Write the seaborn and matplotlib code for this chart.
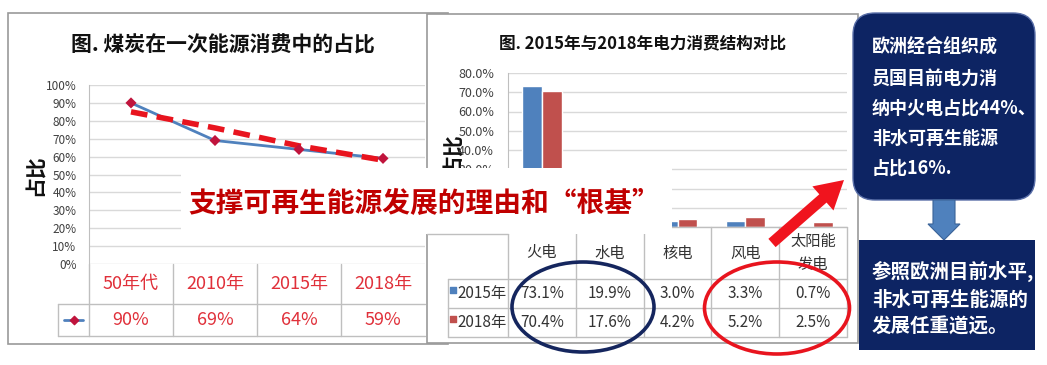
import numpy as np
import pandas as pd
import seaborn as sns
from matplotlib import pyplot as plt
from matplotlib.patches import Ellipse, FancyArrow, FancyBboxPatch, Rectangle

# left chart: coal share of primary energy
coal_periods = ["50年代", "2010年", "2015年", "2018年"]
coal_share = [90, 69, 64, 59]
coal_trend = [85, 76, 66, 58]  # dashed trend

# right chart: power consumption structure
power_types = ["火电", "水电", "核电", "风电", "太阳能\n发电"]
years = ["2015年", "2018年"]
share_2015 = [73.1, 19.9, 3.0, 3.3, 0.7]
share_2018 = [70.4, 17.6, 4.2, 5.2, 2.5]

W, H = 1047, 365
BLUE, RED = "#4F81BD", "#C0504D"
NAVY = "#0D2463"
GRID = "#D9D9D9"
LINE = "#BFBFBF"

sns.set_style("white")
plt.rcParams["font.family"] = ["Noto Sans CJK SC", "DejaVu Sans"]


def box(x0, y0, x1, y1):
    return [x0 / W, 1 - y1 / H, (x1 - x0) / W, (y1 - y0) / H]


def canvas(z):
    ax = fig.add_axes([0, 0, 1, 1])
    ax.set_xlim(0, W)
    ax.set_ylim(H, 0)
    ax.axis("off")
    ax.set_zorder(z)
    return ax


fig = plt.figure(figsize=(W / 100, H / 100), dpi=100, facecolor="white")

# ---- left panel ----
c0 = canvas(0)
c0.add_patch(Rectangle((8, 13), 440, 331, fc="white", ec="#9A9A9A", lw=1.2))
c0.text(223, 45, "图. 煤炭在一次能源消费中的占比", fontsize=15, fontweight="bold",
        ha="center", va="center", color="#111111")
c0.text(35, 175, "占比", fontsize=15, fontweight="bold", rotation=90,
        ha="center", va="center", color="#111111")

ax1 = fig.add_axes(box(89, 85, 425, 264))
ax1.set_zorder(1)
ax1.patch.set_alpha(0)
xpos = np.arange(len(coal_periods))
sns.lineplot(x=xpos, y=coal_share, color=BLUE, lw=2, ax=ax1)
sns.lineplot(x=xpos, y=coal_trend, color="#E8141E", lw=4,
             linestyle=(0, (3, 1.7)), ax=ax1)
sns.scatterplot(x=xpos, y=coal_share, marker="D", s=32, color="#C0143C",
                edgecolor="none", ax=ax1, zorder=5)
ax1.set_xlim(-0.5, 3.5)
ax1.set_ylim(0, 100)
ax1.set_yticks(range(0, 101, 10))
ax1.set_yticklabels([f"{v}%" for v in range(0, 101, 10)], fontsize=8.5, color="#404040")
ax1.set_xticks([])
ax1.tick_params(axis="y", length=0, pad=9)
ax1.yaxis.grid(True, color=GRID, lw=1)
for s in ["top", "right", "bottom"]:
    ax1.spines[s].set_visible(False)
ax1.spines["left"].set_color(LINE)

# left data table
t1 = fig.add_axes(box(89, 264, 425, 336))
t1.set_zorder(1)
t1.axis("off")
t1.set_xlim(-0.5, 3.5)
t1.set_ylim(336, 264)
leg1 = -0.5 - 31 / 84
for b in np.arange(-0.5, 3.0, 1.0):
    t1.plot([b, b], [264, 336], color=LINE, lw=1, clip_on=False)
t1.plot([leg1, leg1], [304, 336], color=LINE, lw=1, clip_on=False)
for yy in [304, 336]:
    t1.plot([leg1, 3.5], [yy, yy], color=LINE, lw=1, clip_on=False)
for i, (p, v) in enumerate(zip(coal_periods, coal_share)):
    t1.text(i, 284, p, fontsize=13, color="#E0303A", ha="center", va="center")
    t1.text(i, 320, f"{v}%", fontsize=13, color="#E0303A", ha="center", va="center")
mid = (leg1 - 0.5) / 2
t1.plot([leg1 + 0.07, -0.57], [320, 320], color=BLUE, lw=2, clip_on=False)
t1.scatter([mid], [320], marker="D", s=18, color="#C0143C", clip_on=False, zorder=5)

# ---- right panel ----
c1 = canvas(2)
c1.add_patch(Rectangle((427, 14), 431, 329, fc="white", ec="#9A9A9A", lw=1.2))
c1.text(643, 43, "图. 2015年与2018年电力消费结构对比", fontsize=12, fontweight="bold",
        ha="center", va="center", color="#111111")
c1.text(452, 153, "占比", fontsize=15, fontweight="bold", rotation=90,
        ha="center", va="center", color="#111111")

ax2 = fig.add_axes(box(508, 73, 847, 227))
ax2.set_zorder(3)
ax2.patch.set_alpha(0)
df = pd.DataFrame({
    "type": power_types * 2,
    "year": [years[0]] * 5 + [years[1]] * 5,
    "share": share_2015 + share_2018,
})
sns.barplot(data=df, x="type", y="share", hue="year", palette=[BLUE, RED],
            width=0.58, gap=0, saturation=1, legend=False, ax=ax2, zorder=3)
ax2.set_xlim(-0.5, 4.5)
ax2.set_ylim(0, 80)
ax2.set_yticks(range(0, 81, 10))
ax2.set_yticklabels([f"{v:.1f}%" for v in range(0, 81, 10)], fontsize=9, color="#404040")
ax2.set_xticks([])
ax2.set_xlabel("")
ax2.set_ylabel("")
ax2.tick_params(axis="y", length=0, pad=10)
ax2.yaxis.grid(True, color=GRID, lw=1)
ax2.set_axisbelow(True)
for s in ["top", "right", "bottom"]:
    ax2.spines[s].set_visible(False)
ax2.spines["left"].set_color(LINE)

# right data table
t2 = fig.add_axes(box(508, 227, 847, 337))
t2.set_zorder(3)
t2.axis("off")
t2.set_xlim(-0.5, 4.5)
t2.set_ylim(337, 227)
cw = 339 / 5
leg2 = -0.5 - 60 / cw
for b in np.arange(-0.5, 5.0, 1.0):
    t2.plot([b, b], [227, 337], color=LINE, lw=1, clip_on=False)
t2.plot([leg2, leg2], [279, 337], color=LINE, lw=1, clip_on=False)
t2.plot([-0.5 - 81 / cw, 4.5], [227, 227], color=LINE, lw=1, clip_on=False)
for yy in [279, 308, 337]:
    t2.plot([leg2, 4.5], [yy, yy], color=LINE, lw=1, clip_on=False)
for i, name in enumerate(power_types):
    t2.text(i, 253, name, fontsize=11, color="#333333", ha="center", va="center",
            linespacing=1.4)
for row_y, yr, vals, col in [(293.5, years[0], share_2015, BLUE),
                             (322.5, years[1], share_2018, RED)]:
    t2.scatter([leg2 + 5 / cw], [row_y - 4], marker="s", s=14, color=col,
               clip_on=False)
    t2.text(leg2 + 9 / cw, row_y, yr, fontsize=11, color="#333333",
            ha="left", va="center")
    for i, v in enumerate(vals):
        t2.text(i, row_y, f"{v:.1f}%", fontsize=11, color="#333333",
                ha="center", va="center")

# ---- overlays ----
c2 = canvas(4)
c2.add_patch(Rectangle((181, 168), 491, 66, fc="white", ec="none"))
c2.plot([427, 508], [234, 234], color=LINE, lw=1)
c2.text(424, 204, "支撑可再生能源发展的理由和“根基”", fontsize=20, fontweight="bold",
        color="#C00000", ha="center", va="center")
c2.add_patch(Ellipse((583, 307), 142, 90, fc="none", ec="#15265E", lw=2.6))
c2.add_patch(Ellipse((777, 308), 145, 92, fc="none", ec="#E8141E", lw=2.6))
c2.add_patch(FancyArrow(772, 243, 72, -63, width=11, head_width=32,
                        head_length=28, length_includes_head=True,
                        fc="#F0141E", ec="none"))

c2.add_patch(FancyBboxPatch((853, 13), 182, 187,
                            boxstyle="round,pad=0,rounding_size=22",
                            fc=NAVY, ec="#5A6FA8", lw=1))
c2.text(872, 108, "欧洲经合组织成\n员国目前电力消\n纳中火电占比44%、\n非水可再生能源\n占比16%.",
        fontsize=13, fontweight="bold", color="white", ha="left", va="center",
        linespacing=1.75)
c2.add_patch(FancyArrow(944, 200, 0, 40, width=22, head_width=32,
                        head_length=16, length_includes_head=True,
                        fc=BLUE, ec="#3A6398", lw=0.8))
c2.add_patch(Rectangle((859, 240), 176, 110, fc=NAVY, ec="none"))
c2.text(872, 299, "参照欧洲目前水平,\n非水可再生能源的\n发展任重道远。",
        fontsize=14, fontweight="bold", color="white", ha="left", va="center",
        linespacing=1.55)

fig.savefig("out.png", dpi=100, facecolor="white")
